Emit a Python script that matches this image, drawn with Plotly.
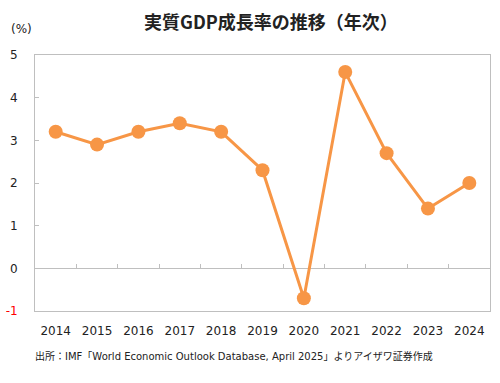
import plotly.graph_objects as go

years = ["2014", "2015", "2016", "2017", "2018", "2019", "2020", "2021", "2022", "2023", "2024"]
growth = [3.2, 2.9, 3.2, 3.4, 3.2, 2.3, -0.7, 4.6, 2.7, 1.4, 2.0]
y_ticks = [-1, 0, 1, 2, 3, 4, 5]
y_ticktext = ['<span style="color:#ff0000">-1</span>', "0", "1", "2", "3", "4", "5"]

title_text = "実質GDP成長率の推移（年次）"
unit_text = "(%)"
source_text = "出所：IMF「World Economic Outlook Database, April 2025」よりアイザワ証券作成"

CJK = "Noto Sans CJK JP"
LAT = "DejaVu Sans, Noto Sans CJK JP"
ORANGE = "#F79646"
GRAY = "#BFBFBF"
TXT = "#222222"

W, H = 500, 383
ML, MR, MT, MB = 35, 10, 55, 72
PW, PH = W - ML - MR, H - MT - MB

fig = go.Figure()
fig.add_trace(go.Scatter(
    x=list(range(len(years))), y=growth, mode="lines+markers",
    line=dict(color=ORANGE, width=3),
    marker=dict(color=ORANGE, size=14),
    showlegend=False, hoverinfo="y",
))
fig.add_trace(go.Scatter(x=[None], y=[None], xaxis="x2", showlegend=False, hoverinfo="skip"))

ymin, ymax = -1, 5
fig.update_layout(
    width=W, height=H,
    margin=dict(l=ML, r=MR, t=MT, b=MB, autoexpand=False),
    paper_bgcolor="white", plot_bgcolor="white",
    font=dict(family=LAT, color=TXT, size=12),
    hovermode=False,
    xaxis=dict(
        range=[-0.5, len(years) - 0.5],
        tickmode="array", tickvals=list(range(len(years))), ticktext=years,
        showgrid=False, zeroline=False, showline=True, mirror=True,
        linecolor=GRAY, linewidth=1, ticks="", ticklabelstandoff=9,
        tickfont=dict(size=12, color=TXT, family=LAT),
    ),
    xaxis2=dict(
        overlaying="x", anchor="free", position=(0 - ymin) / (ymax - ymin),
        range=[-0.5, len(years) - 0.5],
        tickmode="array", tickvals=[i + 0.5 for i in range(len(years) - 1)],
        ticks="inside", ticklen=4, tickcolor=GRAY, tickwidth=1,
        showticklabels=False, showgrid=False, zeroline=False, showline=False,
    ),
    yaxis=dict(
        range=[ymin, ymax], tickmode="array", tickvals=y_ticks, ticktext=y_ticktext,
        showgrid=False, zeroline=True, zerolinecolor=GRAY, zerolinewidth=1,
        showline=True, mirror=True, linecolor=GRAY, linewidth=1,
        ticks="inside", ticklen=4, tickcolor=GRAY, ticklabelstandoff=14,
        tickfont=dict(size=12, color=TXT, family=LAT),
    ),
    title=dict(text="<b>" + title_text + "</b>", x=271 / W, xanchor="center",
               y=1 - 23 / H, yanchor="middle",
               font=dict(size=18, family=CJK, color=TXT)),
    annotations=[
        dict(text=unit_text, xref="paper", yref="paper", x=-(35 - 9) / PW, y=1 + 26 / PH,
             xanchor="left", yanchor="middle", showarrow=False,
             font=dict(size=12, family=LAT, color=TXT)),
        dict(text=source_text, xref="paper", yref="paper", x=-2 / PW, y=-45 / PH,
             xanchor="left", yanchor="middle", showarrow=False,
             font=dict(size=10, family=LAT, color=TXT)),
    ],
)

fig.write_html("out.html", config={"displayModeBar": False, "staticPlot": False},
               post_script="document.body.style.margin='0';")
